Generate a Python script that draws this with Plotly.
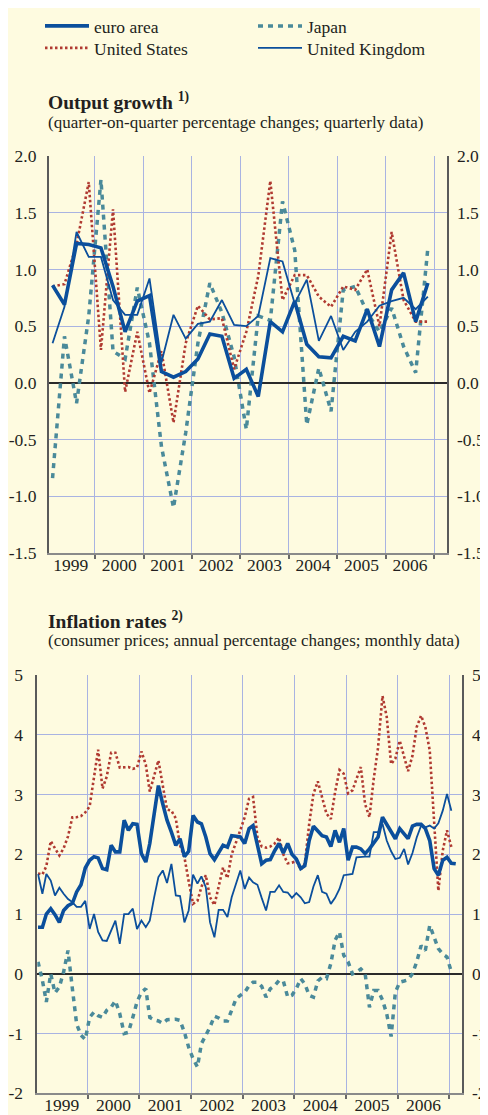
import pandas as pd
import plotly.graph_objects as go

# ---- output growth, quarterly, 1999Q1 - 2006Q4 ----
q_dates = pd.date_range("1999-01-01", periods=32, freq="QS") + pd.Timedelta(days=45)

gdp_euro = [0.86, 0.69, 1.23, 1.22, 1.19, 0.85, 0.45, 0.72, 0.77, 0.10, 0.05, 0.10,
            0.21, 0.43, 0.41, 0.04, 0.12, -0.12, 0.54, 0.45, 0.72, 0.34, 0.23, 0.22,
            0.41, 0.37, 0.65, 0.32, 0.82, 0.97, 0.54, 0.88]
gdp_us = [0.85, 0.87, 1.22, 1.77, 0.29, 1.53, -0.08, 0.45, -0.09, 0.28, -0.35, 0.35,
          0.68, 0.56, 0.57, 0.12, 0.45, 0.94, 1.78, 0.73, 0.95, 0.95, 0.76, 0.67,
          0.85, 0.82, 1.00, 0.50, 1.33, 0.73, 0.54, 0.54]
gdp_japan = [-0.84, 0.41, -0.18, 0.59, 1.79, 0.28, 0.21, 0.84, 0.35, -0.56, -1.10, -0.44,
             0.35, 0.88, 0.62, 0.23, -0.41, 0.59, 0.55, 1.60, 1.17, -0.37, 0.13, -0.25,
             0.82, 0.85, 0.62, 0.45, 0.66, 0.32, 0.09, 1.19]
gdp_uk = [0.35, 0.67, 1.33, 1.11, 1.11, 0.73, 0.60, 0.60, 0.92, 0.18, 0.60, 0.39,
          0.52, 0.54, 0.73, 0.51, 0.50, 0.59, 1.10, 1.07, 0.70, 0.91, 0.37, 0.59,
          0.29, 0.45, 0.54, 0.68, 0.72, 0.75, 0.65, 0.76]
gdp_ticks = [-1.5, -1.0, -0.5, 0.0, 0.5, 1.0, 1.5, 2.0]
gdp_labels = ["-1.5", "-1.0", "-0.5", "0.0", "0.5", "1.0", "1.5", "2.0"]

# ---- inflation, monthly, Jan 1999 onwards ----
m_dates = pd.date_range("1999-01-01", periods=98, freq="MS") + pd.Timedelta(days=14)

cpi_euro = [0.78, 0.78, 1.00, 1.09, 0.99, 0.86, 1.06, 1.14, 1.18, 1.37, 1.49, 1.77,
            1.90, 1.96, 1.94, 1.76, 1.74, 2.15, 2.04, 2.04, 2.57, 2.40, 2.51, 2.50,
            2.01, 1.87, 2.18, 2.65, 3.15, 2.84, 2.57, 2.37, 2.15, 2.26, 1.96, 2.05,
            2.65, 2.54, 2.51, 2.29, 2.01, 1.91, 2.04, 2.15, 2.12, 2.31, 2.30, 2.29,
            2.18, 2.43, 2.48, 2.18, 1.84, 1.90, 1.91, 2.06, 2.18, 2.02, 2.18, 2.00,
            1.92, 1.76, 1.81, 2.23, 2.47, 2.39, 2.31, 2.29, 2.13, 2.40, 2.20, 2.43,
            1.90, 2.12, 2.12, 2.09, 2.01, 2.09, 2.20, 2.29, 2.62, 2.51, 2.37, 2.26,
            2.43, 2.34, 2.26, 2.47, 2.50, 2.50, 2.43, 2.23, 1.76, 1.65, 1.90, 1.95,
            1.85, 1.84]
cpi_us = [1.68, 1.66, 1.80, 2.22, 2.10, 1.98, 2.10, 2.30, 2.62, 2.62, 2.64, 2.70,
          2.80, 3.30, 3.75, 3.10, 3.30, 3.70, 3.70, 3.45, 3.45, 3.46, 3.43, 3.45,
          3.72, 3.50, 3.05, 3.30, 3.57, 3.15, 2.75, 2.73, 2.60, 2.15, 1.95, 1.55,
          1.17, 1.22, 1.45, 1.65, 1.28, 1.15, 1.45, 1.78, 1.60, 2.00, 2.20, 2.40,
          2.62, 2.93, 2.96, 2.29, 2.13, 2.11, 2.13, 2.18, 2.28, 2.00, 1.85, 1.86,
          1.89, 1.74, 1.84, 2.51, 3.01, 3.22, 2.96, 2.68, 2.59, 3.04, 3.41, 3.35,
          3.02, 3.07, 3.26, 3.46, 2.84, 2.62, 3.26, 3.79, 4.65, 4.30, 3.51, 3.60,
          3.90, 3.63, 3.39, 3.65, 4.13, 4.32, 4.13, 3.74, 2.45, 1.39, 2.06, 2.40,
          2.12]
cpi_japan = [0.20, -0.11, -0.47, 0.00, -0.32, -0.22, 0.03, 0.39, -0.25, -0.84, -1.03, -1.10,
             -0.73, -0.64, -0.70, -0.73, -0.61, -0.56, -0.45, -0.67, -1.00, -0.98, -0.73, -0.47,
             -0.31, -0.25, -0.73, -0.77, -0.79, -0.83, -0.77, -0.77, -0.76, -0.78, -0.98, -1.23,
             -1.42, -1.56, -1.17, -1.03, -0.89, -0.71, -0.74, -0.79, -0.79, -0.61, -0.42, -0.36,
             -0.31, -0.20, -0.14, -0.14, -0.21, -0.39, -0.25, -0.20, -0.11, -0.12, -0.39, -0.36,
             -0.25, -0.08, -0.17, -0.36, -0.39, -0.12, -0.06, -0.08, 0.17, 0.56, 0.70, 0.31,
             0.20, 0.00, 0.03, 0.08, 0.01, -0.56, -0.28, -0.28, -0.44, -0.67, -1.05, -0.31,
             -0.14, -0.12, -0.10, 0.00, 0.20, 0.47, 0.39, 0.81, 0.59, 0.42, 0.33, 0.28,
             0.03]
cpi_uk = [1.67, 1.34, 1.67, 1.56, 1.31, 1.44, 1.34, 1.25, 1.20, 1.12, 1.12, 1.22,
          0.75, 1.00, 0.70, 0.56, 0.55, 0.73, 0.89, 0.50, 1.00, 1.00, 1.09, 0.75,
          0.89, 0.78, 0.89, 1.28, 1.62, 1.73, 1.52, 1.84, 1.31, 1.30, 0.86, 1.06,
          1.66, 1.51, 1.63, 1.45, 0.86, 0.61, 1.07, 1.07, 0.95, 1.28, 1.51, 1.73,
          1.42, 1.61, 1.53, 1.49, 1.27, 1.06, 1.37, 1.37, 1.48, 1.37, 1.36, 1.27,
          1.35, 1.28, 1.18, 1.20, 1.46, 1.65, 1.37, 1.34, 1.17, 1.27, 1.42, 1.65,
          1.66, 1.67, 1.95, 1.96, 1.96, 1.96, 2.37, 2.37, 2.51, 2.23, 2.05, 1.92,
          1.94, 2.09, 1.83, 2.02, 2.28, 2.48, 2.45, 2.48, 2.43, 2.52, 2.73, 3.01,
          2.73]
cpi_ticks = [-2, -1, 0, 1, 2, 3, 4, 5]
cpi_labels = ["-2", "-1", "0", "1", "2", "3", "4", "5"]

# the page body has an 8px margin, so the figure is 8px smaller than the window
PAGE_W, PAGE_H, OFF = 488, 1115, 8
W, H = PAGE_W - OFF, PAGE_H - OFF
BG = "#fefbe0"
GRID = "#a9b3e2"
AXIS = "#5a5a5a"
TEXT = "#231f20"
FONT = "Liberation Serif, Times New Roman, serif"
BLUE = "#0b4f9c"
RED = "#b03a31"
TEAL = "#4a8a9a"

# series style: name, colour, width, dash, legend row, rank (drawn in this order)
STYLES = [
    ("Japan", TEAL, 3.5, "5px,5px", "legend", 2),
    ("United States", RED, 2.6, "2.5px,2.5px", "legend2", 1),
    ("United Kingdom", BLUE, 1.8, "solid", "legend2", 2),
    ("euro area", BLUE, 3.6, "solid", "legend", 1),
]


def px_x(p):
    # page pixel -> paper fraction
    return (p - OFF) / W


def px_y(p):
    return 1 - (p - OFF) / H


fig = go.Figure()

panels = [
    ("x", "y", "y3", q_dates, {"euro area": gdp_euro, "United States": gdp_us,
                               "Japan": gdp_japan, "United Kingdom": gdp_uk}, True),
    ("x2", "y2", "y4", m_dates, {"euro area": cpi_euro, "United States": cpi_us,
                                 "Japan": cpi_japan, "United Kingdom": cpi_uk}, False),
]
for xa, ya, ya_right, dates, series, show in panels:
    for name, color, width, dash, leg, rank in STYLES:
        vals = series[name]
        fig.add_trace(go.Scatter(
            x=dates[:len(vals)], y=vals, xaxis=xa, yaxis=ya,
            mode="lines", name=name, showlegend=show, legend=leg, legendrank=rank,
            line=dict(color=color, width=width, dash=dash),
        ))
    # empty trace so the mirrored right-hand axis gets drawn
    fig.add_trace(go.Scatter(x=[], y=[], xaxis=xa, yaxis=ya_right,
                             showlegend=False, hoverinfo="skip"))

tick_font = dict(family=FONT, size=17.5, color=TEXT)

x_common = dict(
    type="date", dtick="M12", tick0="1999-01-01", tickformat="%Y",
    ticklabelmode="period", showgrid=True, gridcolor=GRID, gridwidth=1,
    showline=True, linecolor="#8a8a8a", linewidth=1.5,
    ticks="outside", ticklen=4, tickcolor="#6a6a6a", tickwidth=1.5,
    tickfont=tick_font, zeroline=False, fixedrange=True, automargin=False,
    ticklabelstandoff=-9,
)
y_common = dict(
    showgrid=True, gridcolor=GRID, gridwidth=1, showline=True, linecolor=AXIS,
    linewidth=1.5, zeroline=True, zerolinecolor="#2a2a2a", zerolinewidth=1.6,
    ticks="", tickfont=tick_font, fixedrange=True, automargin=False,
)
legend_common = dict(
    orientation="h", xanchor="left", yanchor="top",
    entrywidth=154, entrywidthmode="pixels", itemwidth=44,
    font=dict(family=FONT, size=17.5, color=TEXT),
    bgcolor="rgba(0,0,0,0)", tracegroupgap=0,
)

top_dom_x = [px_x(48.7), px_x(446.7)]
top_dom_y = [px_y(553), px_y(156)]
bot_dom_x = [px_x(37.3), px_x(461.7)]
bot_dom_y = [px_y(1093.3), px_y(675)]

fig.update_layout(
    width=W, height=H, margin=dict(l=0, r=0, t=0, b=0),
    paper_bgcolor=BG, plot_bgcolor=BG,
    font=dict(family=FONT, color=TEXT),
    xaxis=dict(x_common, domain=top_dom_x, anchor="y",
               range=["1999-01-17", "2007-04-06"]),
    yaxis=dict(y_common, domain=top_dom_y, anchor="x", range=[-1.5, 2.0],
               tickvals=gdp_ticks, ticktext=gdp_labels, ticklabelstandoff=7),
    yaxis3=dict(y_common, overlaying="y", side="right", anchor="x",
                range=[-1.5, 2.0], tickvals=gdp_ticks, ticktext=gdp_labels,
                showgrid=False, zeroline=False, ticklabelstandoff=5),
    xaxis2=dict(x_common, domain=bot_dom_x, anchor="y2",
                range=["1999-01-10", "2007-03-29"]),
    yaxis2=dict(y_common, domain=bot_dom_y, anchor="x2", range=[-2, 5],
                tickvals=cpi_ticks, ticktext=cpi_labels, ticklabelstandoff=9),
    yaxis4=dict(y_common, overlaying="y2", side="right", anchor="x2",
                range=[-2, 5], tickvals=cpi_ticks, ticktext=cpi_labels,
                showgrid=False, zeroline=False, ticklabelstandoff=5),
    legend=dict(legend_common, x=px_x(40), y=1.0),
    legend2=dict(legend_common, x=px_x(40), y=px_y(30)),
    showlegend=True,
)

titles = [
    (101, "<b>Output growth <sup>1)</sup></b>", 19.5),
    (122, "(quarter-on-quarter percentage changes; quarterly data)", 17),
    (620, "<b>Inflation rates <sup>2)</sup></b>", 19.5),
    (640, "(consumer prices; annual percentage changes; monthly data)", 17),
]
for ypx, txt, size in titles:
    fig.add_annotation(
        x=px_x(46), y=px_y(ypx), xref="paper", yref="paper",
        xanchor="left", yanchor="middle", showarrow=False, text=txt,
        font=dict(family=FONT, size=size, color=TEXT),
    )

fig.write_html("out.html")
